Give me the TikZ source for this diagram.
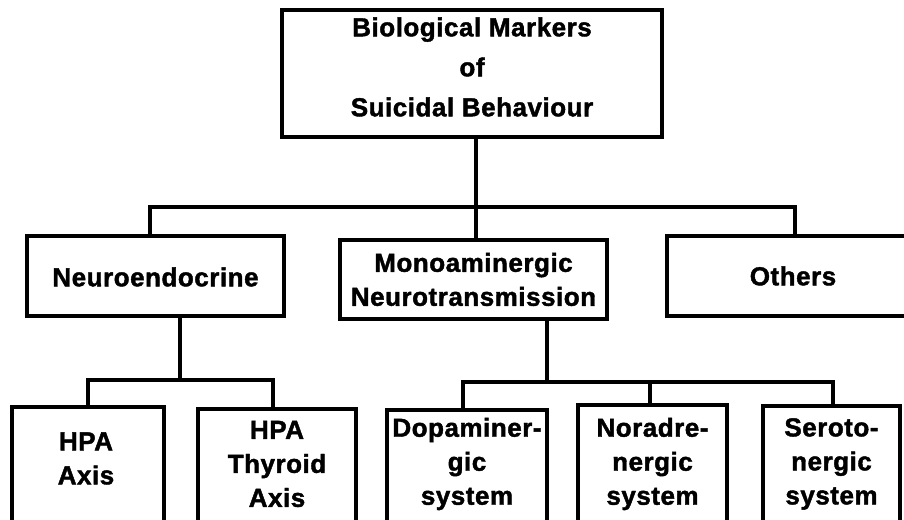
\documentclass[tikz,border=0pt]{standalone}
\usepackage{fontspec}
\setmainfont{Liberation Sans}
\newfontfamily\heavy{Liberation Sans Bold}[FakeBold=1.6, LetterSpace=2]
\begin{document}
\begin{tikzpicture}[x=1pt,y=-1pt,
  box/.style={draw, line width=3.4pt, rectangle, inner sep=0pt},
  txt/.style={align=center, font=\fontsize{26}{34}\selectfont\heavy, inner sep=0pt},
  link/.style={line width=3.2pt}]
\useasboundingbox (0,0) rectangle (904,519);
\clip (0,0) rectangle (904,519);
% boxes
\node[box, minimum width=380pt, minimum height=127pt] (top) at (472,73.5) {};
\node[box, minimum width=257pt, minimum height=80pt] (neuro) at (155.5,276) {};
\node[box, minimum width=267pt, minimum height=79pt] (mono) at (473.5,279.5) {};
\node[box, minimum width=252pt, minimum height=80pt] (others) at (793,276) {};
\node[box, minimum width=152pt, minimum height=130pt] (hpa) at (88,472) {};
\node[box, minimum width=158pt, minimum height=130pt] (thy) at (277,474) {};
\node[box, minimum width=160pt, minimum height=130pt] (dopa) at (467,475) {};
\node[box, minimum width=149pt, minimum height=130pt] (nor) at (652.5,470) {};
\node[box, minimum width=137pt, minimum height=130pt] (ser) at (831.5,471) {};
% texts
\node[txt, font=\fontsize{26}{40}\selectfont\heavy] (ttop) at (472,67) {Biological Markers\\of\\Suicidal Behaviour};
\node[txt] (tneuro) at (155.5,277) {Neuroendocrine};
\node[txt] (tmono) at (473.5,279.5) {Monoaminergic\\Neurotransmission};
\node[txt] (tothers) at (793,276) {Others};
\node[txt] (thpa) at (86,458.5) {HPA\\Axis};
\node[txt] (tthy) at (277,464) {HPA\\Thyroid\\Axis};
\node[txt] (tdopa) at (467,464) {Dopaminer-\\gic\\system};
\node[txt] (tnor) at (652.5,464) {Noradre-\\nergic\\system};
\node[txt] (tser) at (831.5,464) {Seroto-\\nergic\\system};
% bus coordinates
\coordinate (b1) at (476,207);
\coordinate (b1l) at (150,207);
\coordinate (b1r) at (795,207);
\coordinate (n1) at (180,380);
\coordinate (n1l) at (88,380);
\coordinate (n1r) at (273,380);
\coordinate (m1) at (547,382);
\coordinate (m1l) at (463,382);
\coordinate (m1c) at (650,382);
\coordinate (m1r) at (833,382);
% connectors
\draw[link] (top.south -| b1) -- (b1);
\draw[link] (neuro.north -| b1l) -- (b1l) -- (b1r) -- (others.north -| b1r);
\draw[link] (b1) -- (mono.north -| b1);
\draw[link] (neuro.south -| n1) -- (n1);
\draw[link] (hpa.north -| n1l) -- (n1l) -- (n1r) -- (thy.north -| n1r);
\draw[link] (mono.south -| m1) -- (m1);
\draw[link] (dopa.north -| m1l) -- (m1l) -- (m1r) -- (ser.north -| m1r);
\draw[link] (m1c) -- (nor.north -| m1c);
\end{tikzpicture}
\end{document}
